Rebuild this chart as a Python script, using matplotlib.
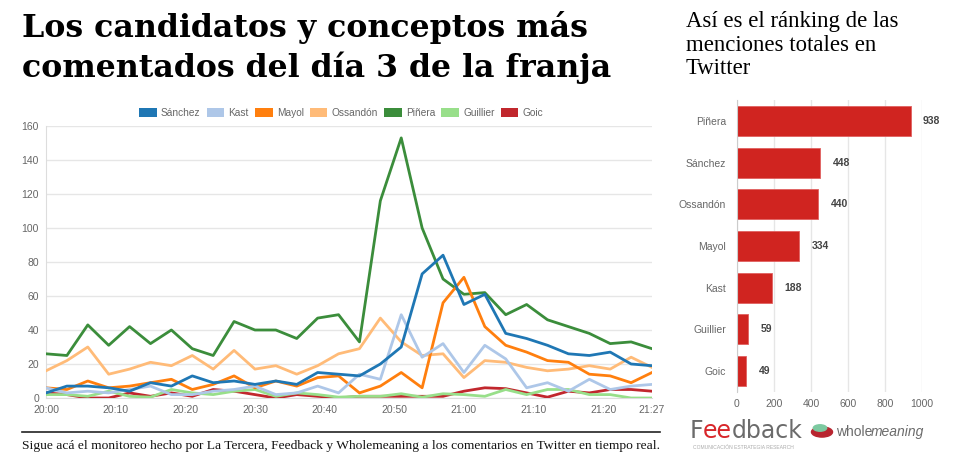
import matplotlib
matplotlib.use("Agg")
import matplotlib.pyplot as plt
from matplotlib.patches import Patch, Circle
import numpy as np

# minutes after 20:00, one reading every 3 minutes
minutes = np.arange(0, 88, 3)
tick_minutes = [0, 10, 20, 30, 40, 50, 60, 70, 80, 87]
tick_labels = ["20:00", "20:10", "20:20", "20:30", "20:40", "20:50",
               "21:00", "21:10", "21:20", "21:27"]

sanchez = [3, 7, 7, 6, 4, 9, 7, 13, 9, 10, 8, 10, 8, 15, 14,
           13, 20, 30, 73, 84, 55, 61, 38, 35, 31, 26, 25, 27, 20, 19]
kast = [6, 3, 4, 3, 5, 7, 2, 2, 4, 5, 7, 2, 3, 7, 3,
        14, 11, 49, 24, 32, 15, 31, 23, 6, 9, 4, 11, 5, 7, 8]
mayol = [6, 5, 10, 6, 7, 9, 11, 5, 8, 13, 6, 10, 7, 12, 13,
         3, 7, 15, 6, 56, 71, 42, 31, 27, 22, 21, 14, 13, 9, 15]
ossandon = [16, 22, 30, 14, 17, 21, 19, 25, 17, 28, 17, 19, 14, 19, 26,
            29, 47, 33, 25, 26, 12, 22, 21, 18, 16, 17, 19, 17, 24, 18]
pinera = [26, 25, 43, 31, 42, 32, 40, 29, 25, 45, 40, 40, 35, 47, 49,
          33, 116, 153, 100, 70, 61, 62, 49, 55, 46, 42, 38, 32, 33, 29]
guillier = [2, 2, 1, 4, 1, 0.5, 5, 3, 2, 4, 5, 1, 3, 2, 0.5,
            1, 1, 2.5, 0.5, 2.5, 2, 1, 5, 2, 5, 5, 2, 2, 0, 0]
goic = [3, 2, 0, 0, 3, 1, 3, 1, 5, 4, 2, 0, 2, 1, 0,
        1, 1, 1, 1, 1, 4, 6, 5.5, 3, 0.5, 4, 3, 5, 5, 4]

series_names = ["Sánchez", "Kast", "Mayol", "Ossandón", "Piñera", "Guillier", "Goic"]
series_values = [sanchez, kast, mayol, ossandon, pinera, guillier, goic]
series_colors = ["#1f77b4", "#aec7e8", "#ff7f0e", "#ffbb78", "#3b8d3b", "#98df8a", "#c1272d"]

rank_names = ["Piñera", "Sánchez", "Ossandón", "Mayol", "Kast", "Guillier", "Goic"]
rank_totals = [938, 448, 440, 334, 188, 59, 49]

W, H = 956, 461
fig = plt.figure(figsize=(W / 100, H / 100), dpi=100)
fig.patch.set_facecolor("white")


def box(x0, y0, x1, y1):
    # pixel box (top-left origin) -> figure fraction rect
    return [x0 / W, (H - y1) / H, (x1 - x0) / W, (y1 - y0) / H]


def fy(y):
    return 1 - y / H


sans = "Liberation Sans"
serif = "Liberation Serif"
grey = "#666666"

# titles, one line at a time on its baseline
for txt, base in [("Los candidatos y conceptos más", 36.7),
                  ("comentados del día 3 de la franja", 76.7)]:
    fig.text(22 / W, fy(base), txt, family="DejaVu Serif", weight="bold", fontsize=22.8,
             va="baseline", ha="left", color="black")
for txt, base in [("Así es el ránking de las", 26.7),
                  ("menciones totales en", 50.5),
                  ("Twitter", 74)]:
    fig.text(686 / W, fy(base), txt, family=serif, fontsize=16.4,
             va="baseline", ha="left", color="black")

# line chart
ax = fig.add_axes(box(46, 126, 652, 398))
for i, (name, vals, col) in enumerate(zip(series_names, series_values, series_colors)):
    ax.plot(minutes, vals, color=col, lw=2.0, label=name, zorder=10 - i,
            solid_joinstyle="round")
ax.set_xlim(0, 87)
ax.set_ylim(0, 160)
ax.set_yticks(range(0, 161, 20))
ax.set_xticks(tick_minutes)
ax.set_xticklabels(tick_labels)
ax.grid(axis="y", color="#e6e6e6", lw=1)
ax.set_axisbelow(True)
for s in ["top", "right"]:
    ax.spines[s].set_visible(False)
ax.spines["left"].set_color("#dddddd")
ax.spines["bottom"].set_color("#dddddd")
ax.tick_params(length=0, labelsize=7.5, colors=grey, pad=5)
for lab in ax.get_xticklabels() + ax.get_yticklabels():
    lab.set_family(sans)

handles = [Patch(facecolor=c, edgecolor="none") for c in series_colors]
leg = ax.legend(handles, series_names, ncol=7, loc="center",
                bbox_to_anchor=(0.487, 1.048), frameon=False,
                handlelength=1.75, handleheight=0.9, handletextpad=0.4,
                columnspacing=0.6, prop={"family": sans, "size": 7.3})
for t in leg.get_texts():
    t.set_color(grey)

# footer
fig.add_artist(plt.Line2D([22 / W, 660 / W], [fy(432), fy(432)],
                          color="#222222", lw=1.2))
fig.text(22 / W, fy(446),
         "Sigue acá el monitoreo hecho por La Tercera, Feedback y Wholemeaning a los comentarios en Twitter en tiempo real.",
         family=serif, fontsize=9.7, va="center", ha="left", color="#111111")

# ranking bars
bx = fig.add_axes(box(737, 100, 922, 392))
ypos = np.arange(len(rank_names))
bx.barh(ypos, rank_totals, height=0.72, color="#d02420", edgecolor="#e06060", lw=0.6)
for y, v in zip(ypos, rank_totals):
    bx.text(v + 68, y, str(v), va="center", ha="left", family=sans,
            fontsize=7.5, weight="bold", color="#444444", clip_on=False)
bx.set_yticks(ypos)
bx.set_yticklabels(rank_names)
bx.set_ylim(len(rank_names) - 0.5, -0.5)
bx.set_xlim(0, 1000)
bx.set_xticks(range(0, 1001, 200))
bx.grid(axis="x", color="#e6e6e6", lw=1)
bx.set_axisbelow(True)
for s in ["top", "right", "bottom"]:
    bx.spines[s].set_visible(False)
bx.spines["left"].set_color("#cccccc")
bx.tick_params(length=0, labelsize=7.5, colors=grey, pad=8)
bx.tick_params(axis="x", pad=5)
for lab in bx.get_xticklabels() + bx.get_yticklabels():
    lab.set_family(sans)

# logos as text
ly = fy(431)
fig.text(690 / W, ly, "F", family="DejaVu Sans", fontsize=17, color="#6b6b6b",
         va="center", ha="left")
fig.text(703 / W, ly, "ee", family="DejaVu Sans", fontsize=17, color="#d8262a",
         va="center", ha="left")
fig.text(732 / W, ly, "dback", family="DejaVu Sans", fontsize=17, color="#6b6b6b",
         va="center", ha="left")
fig.text(693 / W, fy(447), "COMUNICACIÓN ESTRATEGIA RESEARCH", family=sans,
         fontsize=3.6, color="#aaaaaa", va="center", ha="left")
fig.add_artist(Circle((822 / W, fy(432)), 0.011, transform=fig.transFigure,
                      color="#b8252f"))
fig.add_artist(Circle((820 / W, fy(428)), 0.007, transform=fig.transFigure,
                      color="#7cc9a0"))
fig.text(836 / W, fy(432), "whole", family=sans, fontsize=10, color="#6b6b6b",
         va="center", ha="left")
fig.text(871 / W, fy(432), "meaning", family=sans, fontsize=10, style="italic",
         color="#6b6b6b", va="center", ha="left")

fig.savefig("out.png", dpi=100, facecolor="white")
